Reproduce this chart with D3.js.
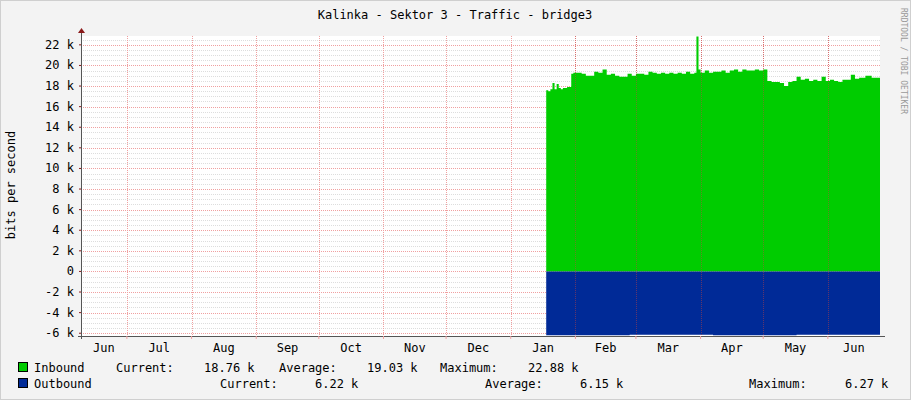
<!DOCTYPE html>
<html><head><meta charset="utf-8">
<script src="https://cdn.jsdelivr.net/npm/d3@7"></script>
<style>body{margin:0;background:#F3F3F3}text{font-family:"DejaVu Sans Mono",monospace;fill:#000}</style>
</head><body><svg id="c" width="911" height="400"></svg>
<script>
const title = "Kalinka - Sektor 3 - Traffic - bridge3";
const yTicks = [-6,-4,-2,0,2,4,6,8,10,12,14,16,18,20,22];
const monthLabels = ["Jun","Jul","Aug","Sep","Oct","Nov","Dec","Jan","Feb","Mar","Apr","May","Jun"];
const monthStarts = ["2023-06-01","2023-07-01","2023-08-01","2023-09-01","2023-10-01","2023-11-01","2023-12-01","2024-01-01","2024-02-01","2024-03-01","2024-04-01","2024-05-01","2024-06-01","2024-07-01"];
// inbound (k bits/s), by day offset from 2024-01-18
const inDays = [0,1,2,3,4,5,6,7,8,9,10,11,12,13,15,17,19,21,23,25,27,29,31,33,35,37,39,41,43,45,47,49,51,53,55,57,59,61,63,65,67,69,71,72,73,74,76,78,80,82,84,86,88,90,92,94,96,98,100,102,104,106,108,110,112,114,116,118,120,122,124,126,128,130,132,134,136,138,140,142,144,146,148,150,153,156,159,160];
const inVals = [17.6,17.5,17.7,18.3,17.7,18.2,17.8,17.7,17.8,17.8,17.9,17.9,19.2,19.3,19.3,19.2,19.0,19.0,19.4,19.3,19.6,19.1,19.2,19.0,18.9,18.9,19.2,19.0,19.2,19.2,19.1,19.4,19.3,19.2,19.3,19.2,19.3,19.2,19.3,19.2,19.4,19.2,19.3,22.8,19.6,19.3,19.5,19.3,19.4,19.4,19.5,19.3,19.5,19.6,19.4,19.6,19.5,19.5,19.6,19.5,19.6,18.5,18.4,18.4,18.3,18.0,18.4,18.5,18.9,18.6,18.7,18.5,18.6,18.5,18.9,18.5,18.6,18.5,18.4,18.6,18.6,19.1,18.7,18.8,19.0,18.8,18.8,18.76];
const outDays = [0,40,80,120,160];
const outVals = [-6.2,-6.15,-6.2,-6.15,-6.22];
const legendRows = [
 {name:"Inbound", color:"#00CC00", items:[["Current:",116],["18.76 k",204],["Average:",279],["19.03 k",367],["Maximum:",440],["22.88 k",528]]},
 {name:"Outbound", color:"#002A97", items:[["Current:",220],["6.22 k",315],["Average:",485],["6.15 k",580],["Maximum:",749],["6.27 k",845]]}
];

const svg = d3.select("#c");
const L=81,R=880,T=36,B=336;
const pd = d3.timeParse("%Y-%m-%d");
const x = d3.scaleTime().domain([pd("2023-06-09"),pd("2024-06-26")]).range([L,R]);
const y = d3.scaleLinear().domain([-6.27,22.86]).range([B,T]);
const start = pd("2024-01-18");
const dd = d=>d3.timeDay.offset(start,d);

svg.append("rect").attr("x",0.5).attr("y",0.5).attr("width",910).attr("height",399).attr("fill","#F3F3F3").attr("stroke","#CFCFCF");
svg.append("rect").attr("x",L).attr("y",T).attr("width",R-L).attr("height",B-T).attr("fill","#fff");
// minor horizontal
for(let v=-6;v<=22.5;v+=0.5){ if(v%2===0) continue;
 svg.append("line").attr("x1",L).attr("x2",R).attr("y1",Math.round(y(v))+0.5).attr("y2",Math.round(y(v))+0.5).attr("stroke","#ddd").attr("stroke-dasharray","1,1");}
// month verticals
monthStarts.forEach(m=>{const px=x(pd(m)); if(px<=L||px>=R) return;
 svg.append("line").attr("x1",Math.round(px)+0.5).attr("x2",Math.round(px)+0.5).attr("y1",T).attr("y2",B).attr("stroke","#F0A0A0").attr("stroke-dasharray","1,1");});
yTicks.forEach(v=>svg.append("line").attr("x1",L).attr("x2",R).attr("y1",Math.round(y(v))+0.5).attr("y2",Math.round(y(v))+0.5).attr("stroke","#F0A0A0").attr("stroke-dasharray","1,1"));

const area = (days,vals)=>d3.area().x((d,i)=>x(dd(days[i]))).y0(y(0)).y1(d=>y(d)).curve(d3.curveStepAfter)(vals);
svg.append("path").attr("d",area(inDays,inVals)).attr("fill","#00CC00");
svg.append("path").attr("d",area(outDays,outVals)).attr("fill","#002A97");
// regrid over data faintly
monthStarts.forEach(m=>{const px=x(pd(m)); if(px<=x(start)||px>=R) return;
 svg.append("line").attr("x1",Math.round(px)+0.5).attr("x2",Math.round(px)+0.5).attr("y1",T).attr("y2",B).attr("stroke","#C04040").attr("stroke-opacity",0.5).attr("stroke-dasharray","1,1");});

// axes
svg.append("line").attr("x1",L-3).attr("x2",R+5).attr("y1",B+0.5).attr("y2",B+0.5).attr("stroke","#555");
svg.append("line").attr("x1",L+0.5).attr("x2",L+0.5).attr("y1",B+3).attr("y2",T-5).attr("stroke","#555");
svg.append("path").attr("d",`M${L-3},${T-3}L${L+4},${T-3}L${L+0.5},${T-8}Z`).attr("fill","#8B1A1A");
yTicks.forEach(v=>{svg.append("line").attr("x1",L-2).attr("x2",L).attr("y1",y(v)).attr("y2",y(v)).attr("stroke","#8B1A1A");
 svg.append("text").attr("x",L-7).attr("y",y(v)+4).attr("text-anchor","end").attr("font-size",12).text(v===0?"0":v+" k");});
monthStarts.slice(0,13).forEach((m,i)=>{const a=x(pd(m)),b=x(pd(monthStarts[i+1]));
 const c=Math.max((Math.max(a,L)+Math.min(b,R))/2, 0);
 svg.append("text").attr("x",c).attr("y",352).attr("text-anchor","middle").attr("font-size",12).text(monthLabels[i]);
 if(a>L) svg.append("line").attr("x1",a).attr("x2",a).attr("y1",B).attr("y2",B+3).attr("stroke","#F0A0A0");});

svg.append("text").attr("x",455).attr("y",19).attr("text-anchor","middle").attr("font-size",12).text(title);
svg.append("text").attr("transform","translate(15,185) rotate(-90)").attr("text-anchor","middle").attr("font-size",12).text("bits per second");
svg.append("text").attr("transform","translate(901,8) rotate(90)").attr("font-size",8).style("fill","#999").text("RRDTOOL / TOBI OETIKER");

legendRows.forEach((r,i)=>{const yy=372+i*16;
 svg.append("rect").attr("x",18.5).attr("y",yy-9.5).attr("width",9).attr("height",9).attr("fill",r.color).attr("stroke","#000");
 svg.append("text").attr("x",34).attr("y",yy).attr("font-size",12).text(r.name);
 r.items.forEach(([t,px])=>svg.append("text").attr("x",px).attr("y",yy).attr("font-size",12).text(t));});
</script></body></html>
